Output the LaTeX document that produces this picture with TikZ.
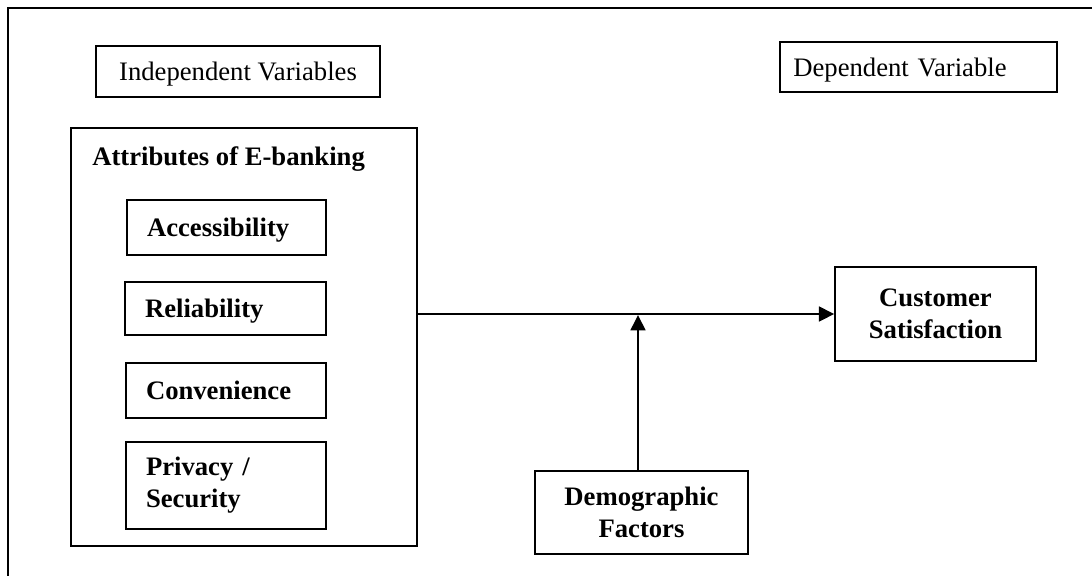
\documentclass[tikz,border=0pt]{standalone}
\usepackage{fontspec}
\setmainfont{Liberation Serif}
\usetikzlibrary{arrows.meta}
\begin{document}
\begin{tikzpicture}[x=0.75pt,y=-0.75pt,
  every node/.style={font=\fontsize{20}{24}\selectfont},
  box/.style={draw, line width=1.1pt, inner sep=0pt},
  lbox/.style={box, align=left, inner xsep=15pt},
  cbox/.style={box, align=center},
  oneline/.style={text depth=0pt},
  conn/.style={line width=2pt, -{Triangle[length=11.5pt,width=11pt]}},
  frame/.style={line width=1.6pt}]
\useasboundingbox (0,0) rectangle (1092,576);
% outer frame (top and left edges)
\coordinate (ftl) at (8,8);
\coordinate (ftr) at (1092,8);
\coordinate (fbl) at (8,576);
\draw[frame] (ftr) -- (ftl) -- (fbl);
% headings
\node[cbox, oneline, minimum width=213pt, minimum height=38.25pt] (indep) at (238,71.5) {Independent Variables};
\node[box, oneline, minimum width=207.75pt, minimum height=37.5pt, text width=187.75pt, inner xsep=10pt, align=left] (dep) at (918.5,67) {Dependent Variable};
% attributes container
\node[box, minimum width=259.5pt, minimum height=313.5pt] (attr) at (244,337) {};
\node[anchor=base west, inner sep=0pt, font=\fontsize{20}{24}\selectfont\bfseries] (attrtitle) at (92,165) {Attributes of E-banking};
% inner boxes
\node[lbox, oneline, text width=119.25pt, minimum height=41.25pt, font=\fontsize{20}{24}\selectfont\bfseries] (acc) at (226.5,227.5) {Accessibility};
\node[lbox, oneline, text width=120.75pt, minimum height=39.75pt, font=\fontsize{20}{24}\selectfont\bfseries] (rel) at (225.5,308.5) {Reliability};
\node[lbox, oneline, text width=120pt, minimum height=41.25pt, font=\fontsize{20}{24}\selectfont\bfseries] (conv) at (226,390.5) {Convenience};
\node[lbox, text width=120pt, minimum height=65.25pt, font=\fontsize{20}{24}\selectfont\bfseries] (priv) at (226,485.5) {Privacy /\\Security};
% dependent
\node[cbox, minimum width=150.75pt, minimum height=70.5pt, font=\fontsize{20}{24}\selectfont\bfseries] (cust) at (935.5,314) {Customer\\Satisfaction};
% moderator
\node[cbox, minimum width=159.75pt, minimum height=62.25pt, font=\fontsize{20}{24}\selectfont\bfseries] (demo) at (641.5,512.5) {Demographic\\Factors};
% connectors
\coordinate (j) at (638,315);
\draw[conn] (attr.east |- cust.west) -- (cust.west);
\draw[conn] (demo.north -| j) -- (j);
\end{tikzpicture}
\end{document}
